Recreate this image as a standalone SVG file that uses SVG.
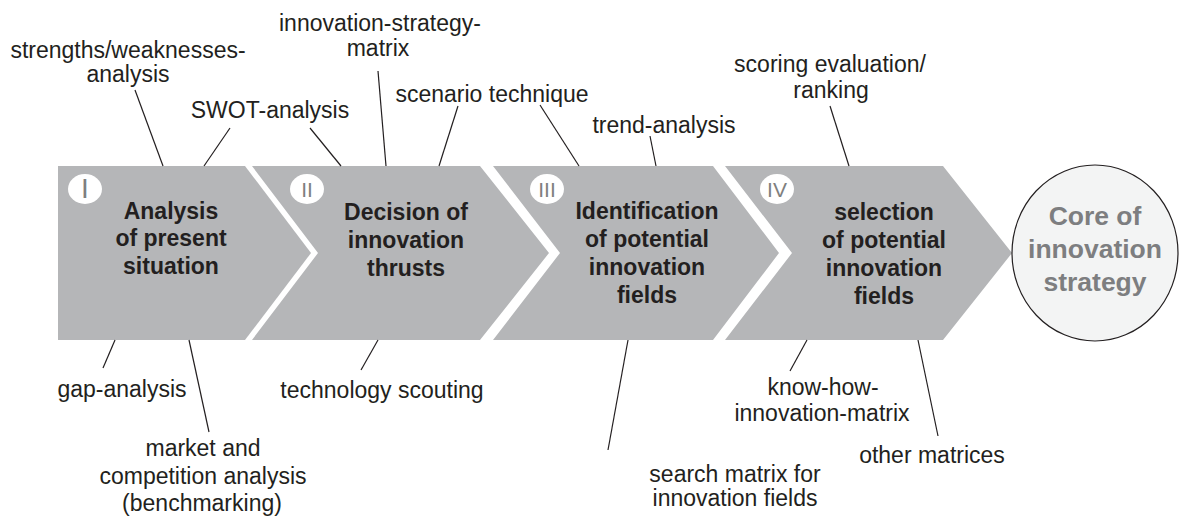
<svg xmlns="http://www.w3.org/2000/svg" width="1182" height="519" viewBox="0 0 1182 519">
<style>
.chev{fill:#b5b6b8;stroke:none}
.title{font-family:"Liberation Sans",Arial,sans-serif;font-weight:bold;font-size:23px;fill:#231f20;text-anchor:middle}
.lbl{font-family:"Liberation Sans",Arial,sans-serif;font-size:23px;fill:#231f20;text-anchor:middle}
.num{font-family:"Liberation Sans",Arial,sans-serif;font-size:21px;fill:#7f7f7f;text-anchor:middle}
.badge{fill:#ffffff}
.core{font-family:"Liberation Sans",Arial,sans-serif;font-weight:bold;font-size:26.5px;fill:#7d7e80;text-anchor:middle}
.con line{stroke:#231f20;stroke-width:1.2}
</style>
<rect width="1182" height="519" fill="#ffffff"/>
<g id="step1">
<polygon class="chev" points="58,166 245,166 311,253 245,340 58,340"/>
<ellipse class="badge" cx="85" cy="189" rx="17" ry="15"/>
<text class="num" x="85" y="198" style="font-size:28px">I</text>
<text class="title" x="171" y="219">Analysis</text>
<text class="title" x="171" y="246">of present</text>
<text class="title" x="171" y="274">situation</text>
</g>
<g id="step2">
<polygon class="chev" points="252,166 480,166 549,253 480,340 252,340 318,253"/>
<ellipse class="badge" cx="307" cy="189" rx="17" ry="15"/>
<text class="num" x="307" y="197">II</text>
<text class="title" x="406" y="220">Decision of</text>
<text class="title" x="406" y="248">innovation</text>
<text class="title" x="406" y="276">thrusts</text>
</g>
<g id="step3">
<polygon class="chev" points="493,166 713,166 779,253 713,340 493,340 560,253"/>
<ellipse class="badge" cx="547" cy="189" rx="17" ry="15"/>
<text class="num" x="547" y="197">III</text>
<text class="title" x="647" y="219">Identification</text>
<text class="title" x="647" y="247">of potential</text>
<text class="title" x="647" y="275">innovation</text>
<text class="title" x="647" y="303">fields</text>
</g>
<g id="step4">
<polygon class="chev" points="725,166 943,166 1012,253 943,340 725,340 792,253"/>
<ellipse class="badge" cx="777" cy="189" rx="17" ry="15"/>
<text class="num" x="777" y="197">IV</text>
<text class="title" x="884" y="220">selection</text>
<text class="title" x="884" y="248">of potential</text>
<text class="title" x="884" y="276">innovation</text>
<text class="title" x="884" y="304">fields</text>
</g>
<g id="core">
<ellipse cx="1095" cy="253" rx="83" ry="88" fill="#f3f4f4" stroke="#231f20" stroke-width="1.2"/>
<text class="core" x="1095" y="225">Core of</text>
<text class="core" x="1095" y="258">innovation</text>
<text class="core" x="1095" y="291">strategy</text>
</g>
<g id="labels">
<text class="lbl" x="128" y="58">strengths/weaknesses-</text>
<text class="lbl" x="128" y="82">analysis</text>
<text class="lbl" x="270" y="118">SWOT-analysis</text>
<text class="lbl" x="380" y="31">innovation-strategy-</text>
<text class="lbl" x="378" y="56">matrix</text>
<text class="lbl" x="492" y="102">scenario technique</text>
<text class="lbl" x="664" y="133">trend-analysis</text>
<text class="lbl" x="830" y="72">scoring evaluation/</text>
<text class="lbl" x="831" y="98">ranking</text>
<text class="lbl" x="122" y="397">gap-analysis</text>
<text class="lbl" x="382" y="398">technology scouting</text>
<text class="lbl" x="203" y="456">market and</text>
<text class="lbl" x="203" y="484">competition analysis</text>
<text class="lbl" x="202" y="511">(benchmarking)</text>
<text class="lbl" x="735" y="482">search matrix for</text>
<text class="lbl" x="735" y="506">innovation fields</text>
<text class="lbl" x="823" y="395">know-how-</text>
<text class="lbl" x="822" y="421">innovation-matrix</text>
<text class="lbl" x="932" y="463">other matrices</text>
</g>
<g id="connectors" class="con">
<line x1="135" y1="90" x2="163" y2="166"/>
<line x1="230" y1="128" x2="204" y2="166"/>
<line x1="310" y1="128" x2="341" y2="166"/>
<line x1="378" y1="71" x2="386" y2="166"/>
<line x1="458" y1="106" x2="439" y2="166"/>
<line x1="540" y1="105" x2="579" y2="166"/>
<line x1="650" y1="136" x2="656" y2="166"/>
<line x1="830" y1="106" x2="849" y2="166"/>
<line x1="115" y1="340" x2="103" y2="368"/>
<line x1="189" y1="340" x2="209" y2="432"/>
<line x1="378" y1="340" x2="361" y2="370"/>
<line x1="628" y1="340" x2="608" y2="450"/>
<line x1="807" y1="340" x2="790" y2="371"/>
<line x1="918" y1="340" x2="938" y2="436"/>
</g>
</svg>
